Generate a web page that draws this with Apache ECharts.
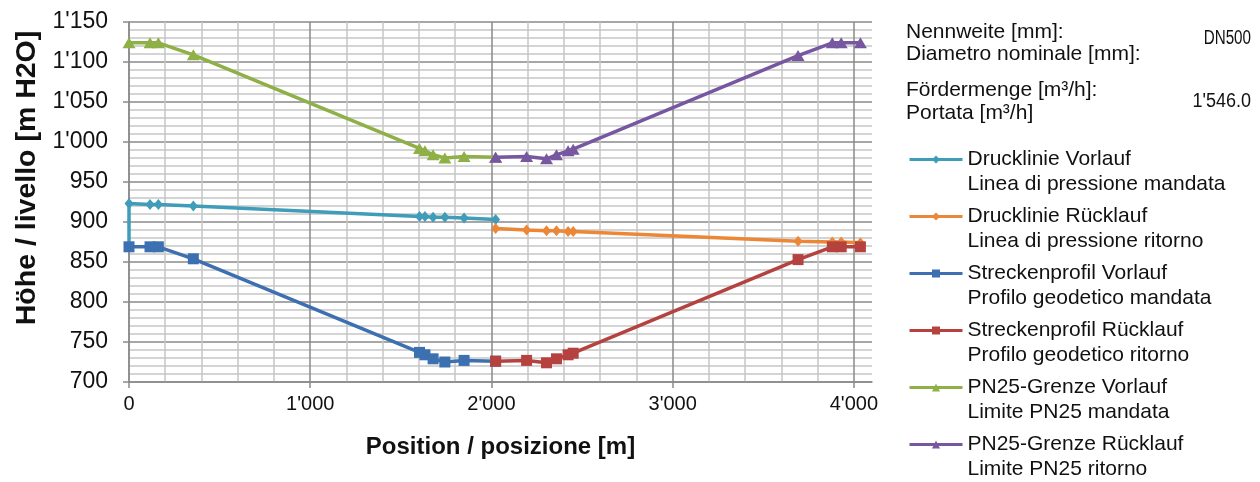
<!DOCTYPE html>
<html>
<head>
<meta charset="utf-8">
<script src="https://cdn.jsdelivr.net/npm/echarts@6/dist/echarts.min.js"></script>
<style>
  html, body { margin: 0; padding: 0; background: #ffffff; }
  #chart { width: 1260px; height: 482px; }
</style>
</head>
<body>
<div id="chart"></div>
<script>
// Series names (German / Italian)
const seriesNames = [
  'Drucklinie Vorlauf\nLinea di pressione mandata',
  'Drucklinie Rücklauf\nLinea di pressione ritorno',
  'Streckenprofil Vorlauf\nProfilo geodetico mandata',
  'Streckenprofil Rücklauf\nProfilo geodetico ritorno',
  'PN25-Grenze Vorlauf\nLimite PN25 mandata',
  'PN25-Grenze Rücklauf\nLimite PN25 ritorno'
];

// Positions [m]
const xDruckVorlauf = [0, 0, 116, 162, 355, 1603, 1633, 1678, 1743, 1849, 2023];
const xVorlauf      = [0, 116, 162, 355, 1603, 1633, 1678, 1743, 1849, 2023];
const xRuecklauf    = [2023, 2194, 2304, 2359, 2423, 2451, 3692, 3881, 3930, 4036];

// Levels [m H2O]
const yDruckVorlauf    = [869, 923, 922, 922, 920, 907, 907, 906, 906, 905, 903];
const yDruckRuecklauf  = [892, 890, 889, 889, 888, 888, 876, 875, 875, 874];
const yProfilVorlauf   = [869, 869, 869, 854, 737, 734, 729, 725, 727, 726];
const yProfilRuecklauf = [726, 727, 724, 729, 734, 736, 853, 869, 869, 869];
const yPN25Vorlauf     = [1124, 1124, 1124, 1109, 992, 989, 984, 980, 982, 981];
const yPN25Ruecklauf   = [981, 982, 979, 984, 989, 991, 1108, 1124, 1124, 1124];

// Axis ticks
const xMajorTicks = [0, 1000, 2000, 3000, 4000];
const xMinorTicks = [200, 400, 600, 800, 1200, 1400, 1600, 1800, 2200, 2400, 2600, 2800,
                     3200, 3400, 3600, 3800];
const yMin = 700, yMax = 1150, yStep = 50;

// Side info block
const infoLabels = [
  ['Nennweite [mm]:', 'Diametro nominale [mm]:'],
  ['Fördermenge [m³/h]:', 'Portata [m³/h]']
];
const infoValues = ['DN500', "1'546.0"];

const colors = ['#3f9db9', '#eb8737', '#3d70b0', '#b5423f', '#8fb046', '#7657a0'];

function swiss(v) {
  return String(Math.round(v)).replace(/\B(?=(\d{3})+(?!\d))/g, "'");
}
function pairs(xs, ys) { return xs.map((x, i) => [x, ys[i]]); }

const darkGrid = '#8a8a8a';
const lightGrid = '#c6c6c6';
const sans = '"Liberation Sans", Arial, sans-serif';

const seriesData = [
  { data: pairs(xDruckVorlauf, yDruckVorlauf), symbol: 'diamond', size: [9, 11] },
  { data: pairs(xRuecklauf, yDruckRuecklauf), symbol: 'diamond', size: [9, 11] },
  { data: pairs(xVorlauf, yProfilVorlauf), symbol: 'rect', size: 11 },
  { data: pairs(xRuecklauf, yProfilRuecklauf), symbol: 'rect', size: 11 },
  { data: pairs(xVorlauf, yPN25Vorlauf), symbol: 'triangle', size: [13, 11] },
  { data: pairs(xRuecklauf, yPN25Ruecklauf), symbol: 'triangle', size: [13, 11] }
];

const chart = echarts.init(document.getElementById('chart'), null, { renderer: 'canvas' });

// Pipe data block at the top right: labels on the left, condensed values on the right
const graphics = [];
const infoTop = [[33, 55], [91, 114]];
const valueY = [38, 101];
const valueScale = [0.76, 0.9];
infoLabels.forEach((pair, k) => {
  pair.forEach((t, j) => {
    graphics.push({
      type: 'text', left: 906, top: infoTop[k][j] - 11,
      style: { text: t, font: '21px ' + sans, fill: '#111' }
    });
  });
  graphics.push({
    type: 'text', x: 1251, y: valueY[k], scaleX: valueScale[k],
    style: {
      text: infoValues[k], font: '20px ' + sans, fill: '#111',
      align: 'right', verticalAlign: 'middle'
    }
  });
});

chart.setOption({
  animation: false,
  color: colors,
  grid: { left: 129, top: 22, right: 388, bottom: 100 },
  legend: {
    orient: 'vertical',
    left: 908,
    top: 122,
    padding: 0,
    itemWidth: 53,
    itemHeight: 10,
    itemGap: -18,
    data: seriesNames,
    formatter: name => '\n' + name,
    lineStyle: { width: 3 },
    textStyle: {
      fontFamily: sans,
      fontSize: 21,
      lineHeight: 25,
      color: '#111'
    }
  },
  xAxis: [
    {
      type: 'value',
      min: 0, max: 4100, interval: 1000,
      name: 'Position / posizione [m]',
      nameLocation: 'middle',
      nameGap: 53,
      nameTextStyle: { fontFamily: sans, fontWeight: 'bold', fontSize: 24, color: '#111' },
      axisLine: { show: true, onZero: false, lineStyle: { color: darkGrid, width: 1.5 } },
      axisTick: { show: true, length: 6, customValues: xMajorTicks, lineStyle: { color: darkGrid, width: 1.5 } },
      axisLabel: {
        customValues: xMajorTicks,
        formatter: swiss,
        margin: 12,
        fontFamily: sans,
        fontSize: 20, color: '#111'
      },
      splitLine: { show: true, lineStyle: { color: darkGrid, width: 1.5 } },
      z: 1
    },
    {
      type: 'value',
      min: 0, max: 4100, interval: 200,
      position: 'bottom',
      axisLine: { show: false },
      axisTick: { show: false, customValues: xMinorTicks },
      axisLabel: { show: false, customValues: xMinorTicks },
      splitLine: { show: true, lineStyle: { color: lightGrid, width: 1.5 } },
      z: 0
    }
  ],
  yAxis: {
    type: 'value',
    min: yMin, max: yMax, interval: yStep,
    name: 'Höhe / livello [m H2O]',
    nameLocation: 'middle',
    nameGap: 83,
    nameTextStyle: {
      fontFamily: sans, fontWeight: 'bold', fontSize: 28.5, color: '#111',
      padding: [0, 0, 0, 48]
    },
    axisLine: { show: true, lineStyle: { color: darkGrid, width: 1.5 } },
    axisTick: { show: true, length: 6, lineStyle: { color: darkGrid, width: 1.5 } },
    axisLabel: {
      formatter: swiss,
      margin: 21,
      fontFamily: sans,
      fontSize: 23, color: '#111'
    },
    splitLine: { show: true, lineStyle: { color: darkGrid, width: 1.5 } },
    minorTick: { show: false, splitNumber: 5 },
    minorSplitLine: { show: true, lineStyle: { color: lightGrid, width: 1.5 } }
  },
  graphic: graphics,
  series: seriesData.map((s, i) => ({
    name: seriesNames[i],
    type: 'line',
    xAxisIndex: 0,
    data: s.data,
    symbol: s.symbol,
    symbolSize: s.size,
    showSymbol: true,
    lineStyle: { width: 3.5, color: colors[i] },
    itemStyle: { color: colors[i] },
    z: 2 + i
  }))
});
</script>
</body>
</html>
